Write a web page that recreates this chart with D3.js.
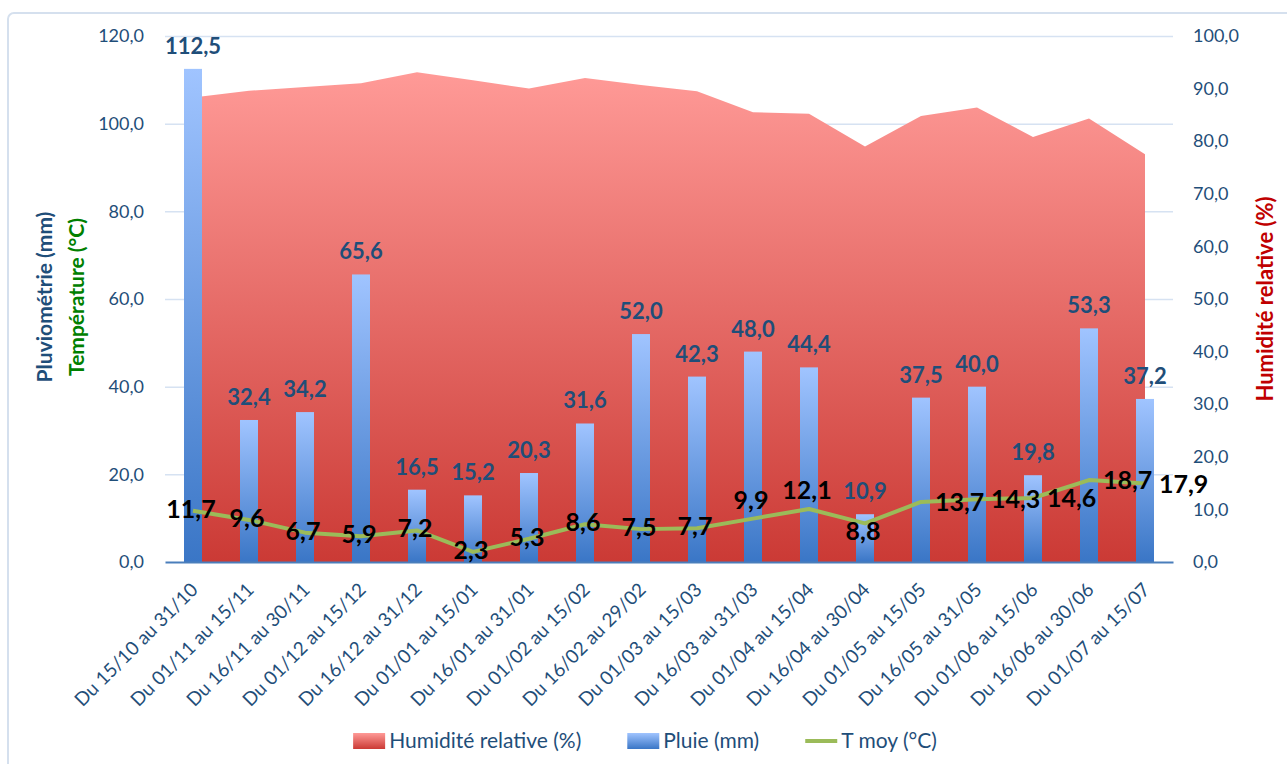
<!DOCTYPE html>
<html>
<head>
<meta charset="utf-8">
<script src="https://cdn.jsdelivr.net/npm/d3@7/dist/d3.min.js"></script>
<style>
  body { margin: 0; background: #fff; }
  svg { font-family: Lato, "Open Sans", sans-serif; }
</style>
</head>
<body>
<div id="chart"></div>
<script>
// Données
const categories = [
  "Du 15/10 au 31/10", "Du 01/11 au 15/11", "Du 16/11 au 30/11", "Du 01/12 au 15/12",
  "Du 16/12 au 31/12", "Du 01/01 au 15/01", "Du 16/01 au 31/01", "Du 01/02 au 15/02",
  "Du 16/02 au 29/02", "Du 01/03 au 15/03", "Du 16/03 au 31/03", "Du 01/04 au 15/04",
  "Du 16/04 au 30/04", "Du 01/05 au 15/05", "Du 16/05 au 31/05", "Du 01/06 au 15/06",
  "Du 16/06 au 30/06", "Du 01/07 au 15/07"
];
const pluie = [112.5, 32.4, 34.2, 65.6, 16.5, 15.2, 20.3, 31.6, 52.0, 42.3, 48.0, 44.4, 10.9, 37.5, 40.0, 19.8, 53.3, 37.2];
const tMoy = [11.7, 9.6, 6.7, 5.9, 7.2, 2.3, 5.3, 8.6, 7.5, 7.7, 9.9, 12.1, 8.8, 13.7, 14.3, 14.6, 18.7, 17.9];
const humidite = [88.3, 89.6, 90.3, 91.0, 93.1, 91.6, 90.0, 92.0, 90.7, 89.5, 85.5, 85.2, 79.0, 84.8, 86.4, 80.8, 84.3, 77.5];
// position des étiquettes T moy (c = centre, a = dessus, b = dessous, r = droite)
const tLabelPos = ["c", "c", "c", "c", "c", "c", "c", "c", "c", "c", "a", "a", "b", "r", "r", "r", "r", "r"];
const leftTicks = [0, 20, 40, 60, 80, 100, 120];
const rightTicks = [0, 10, 20, 30, 40, 50, 60, 70, 80, 90, 100];

const W = 1287, H = 764;
const margin = { top: 36, left: 165, right: 114, bottom: 202 };
const width = W - margin.left - margin.right,
      height = H - margin.top - margin.bottom;

const fr = d3.formatLocale({ decimal: ",", thousands: " ", grouping: [3], currency: ["", " €"] });
const fmt = fr.format(".1f");

const blueText = "#1F4E79";

const svg = d3.select("#chart").append("svg")
  .attr("width", W)
  .attr("height", H);

// Dégradés
const defs = svg.append("defs");
const gBar = defs.append("linearGradient").attr("id", "gBar").attr("x1", 0).attr("y1", 0).attr("x2", 0).attr("y2", 1);
gBar.append("stop").attr("offset", "0%").attr("stop-color", "#A0C4FF");
gBar.append("stop").attr("offset", "100%").attr("stop-color", "#3A76C6");
const gArea = defs.append("linearGradient").attr("id", "gArea").attr("x1", 0).attr("y1", 0).attr("x2", 0).attr("y2", 1);
gArea.append("stop").attr("offset", "0%").attr("stop-color", "#FF9A97");
gArea.append("stop").attr("offset", "100%").attr("stop-color", "#CB3A35");

// Cadre
svg.append("rect")
  .attr("x", 8).attr("y", 13)
  .attr("width", 1320).attr("height", 800)
  .attr("rx", 6)
  .attr("fill", "none")
  .attr("stroke", "#D5E0EE")
  .attr("stroke-width", 2);

const g = svg.append("g").attr("transform", `translate(${margin.left},${margin.top})`);

const x = d3.scaleBand().domain(categories).range([0, width]);
const cx = d => x(d) + x.bandwidth() / 2;
const yL = d3.scaleLinear().domain([0, 120]).range([height, 0]);
const yR = d3.scaleLinear().domain([0, 100]).range([height, 0]);

// Grille
g.append("g")
  .call(d3.axisLeft(yL).tickValues(leftTicks.filter(v => v > 0)).tickSize(-width).tickFormat(""))
  .call(s => s.select(".domain").remove())
  .call(s => s.selectAll("line").attr("stroke", "#D6E2F2").attr("stroke-width", 1.5));

// Axe gauche
g.append("g")
  .call(d3.axisLeft(yL).tickValues(leftTicks).tickSize(0).tickPadding(21).tickFormat(fmt))
  .call(s => s.select(".domain").remove())
  .call(s => s.selectAll("text").attr("fill", blueText).style("font-size", "18px").style("font-family", "Lato"));

// Axe droit
g.append("g")
  .attr("transform", `translate(${width},0)`)
  .call(d3.axisRight(yR).tickValues(rightTicks).tickSize(0).tickPadding(20).tickFormat(fmt))
  .call(s => s.select(".domain").remove())
  .call(s => s.selectAll("text").attr("fill", blueText).style("font-size", "18px").style("font-family", "Lato"));

// Humidité (aire)
const hData = categories.map((c, i) => ({ c, v: humidite[i] }));
g.append("path")
  .datum(hData)
  .attr("fill", "url(#gArea)")
  .attr("d", d3.area()
    .x(d => cx(d.c))
    .y0(height)
    .y1(d => yR(d.v)));

// Pluie (barres)
const barW = 18;
const pData = categories.map((c, i) => ({ c, v: pluie[i] }));
g.selectAll(".bar")
  .data(pData)
  .enter().append("rect")
  .attr("class", "bar")
  .attr("x", d => cx(d.c) - barW / 2)
  .attr("y", d => yL(d.v))
  .attr("width", barW)
  .attr("height", d => height - yL(d.v))
  .attr("fill", "url(#gBar)");

// Axe X
g.append("g")
  .attr("transform", `translate(0,${height})`)
  .call(d3.axisBottom(x).tickSize(0))
  .call(s => s.select(".domain").attr("stroke", "#4A7EBB").attr("stroke-width", 2))
  .call(s => s.selectAll("text")
    .attr("y", 0).attr("dy", 0)
    .attr("text-anchor", "end")
    .attr("transform", "translate(6,29) rotate(-45)")
    .attr("fill", blueText)
    .style("font-size", "19px")
    .style("font-family", "Lato"));

// Étiquettes pluie
g.selectAll(".plabel")
  .data(pData)
  .enter().append("text")
  .attr("class", "plabel")
  .attr("x", d => cx(d.c))
  .attr("y", d => yL(d.v) - 15)
  .attr("text-anchor", "middle")
  .attr("fill", blueText)
  .style("font-size", "22px")
  .style("font-weight", "bold")
  .text(d => fmt(d.v));

// T moy (ligne)
const tData = categories.map((c, i) => ({ c, v: tMoy[i], pos: tLabelPos[i] }));
g.append("path")
  .datum(tData)
  .attr("fill", "none")
  .attr("stroke", "#9BBB59")
  .attr("stroke-width", 4)
  .attr("stroke-linejoin", "round")
  .attr("d", d3.line().x(d => cx(d.c)).y(d => yL(d.v)));

// Étiquettes T moy
g.selectAll(".tlabel")
  .data(tData)
  .enter().append("text")
  .attr("class", "tlabel")
  .attr("x", d => d.pos === "r" ? cx(d.c) + 14 : cx(d.c) - 2)
  .attr("y", d => {
    const y = yL(d.v);
    if (d.pos === "a") return y - 10;
    if (d.pos === "b") return y + 17;
    if (d.pos === "r") return y + 9;
    return y + 7;
  })
  .attr("text-anchor", d => d.pos === "r" ? "start" : "middle")
  .attr("fill", "#000")
  .style("font-size", "25px")
  .style("font-weight", "bold")
  .text(d => fmt(d.v));

// Titres des axes
const midY = margin.top + height / 2;
svg.append("text")
  .attr("transform", `translate(52,${midY - 2}) rotate(-90)`)
  .attr("text-anchor", "middle")
  .attr("fill", blueText)
  .style("font-size", "21px").style("font-weight", "bold")
  .text("Pluviométrie (mm)");
svg.append("text")
  .attr("transform", `translate(84,${midY - 2}) rotate(-90)`)
  .attr("text-anchor", "middle")
  .attr("fill", "#008000")
  .style("font-size", "21px").style("font-weight", "bold")
  .text("Température (°C)");
svg.append("text")
  .attr("transform", `translate(1273,${midY}) rotate(-90)`)
  .attr("text-anchor", "middle")
  .attr("fill", "#C00000")
  .style("font-size", "22px").style("font-weight", "bold")
  .text("Humidité relative (%)");

// Légende
const legendItems = [
  { label: "Humidité relative (%)", type: "area" },
  { label: "Pluie (mm)", type: "bar" },
  { label: "T moy (°C)", type: "line" }
];
const gap = 46;
const legend = svg.append("g");
let lx = 0;
legendItems.forEach(item => {
  const it = legend.append("g").attr("transform", `translate(${lx},0)`);
  if (item.type === "line") {
    it.append("line").attr("x1", 0).attr("x2", 32).attr("y1", 0).attr("y2", 0)
      .attr("stroke", "#9BBB59").attr("stroke-width", 4);
  } else {
    it.append("rect").attr("x", 0).attr("y", -8).attr("width", 32).attr("height", 16)
      .attr("fill", item.type === "area" ? "url(#gArea)" : "url(#gBar)");
  }
  const t = it.append("text")
    .attr("x", 36).attr("y", 7)
    .attr("fill", blueText)
    .style("font-size", "21px")
    .text(item.label);
  lx += 36 + t.node().getComputedTextLength() + gap;
});
const legendW = lx - gap;
legend.attr("transform", `translate(${645 - legendW / 2},741)`);
</script>
</body>
</html>
